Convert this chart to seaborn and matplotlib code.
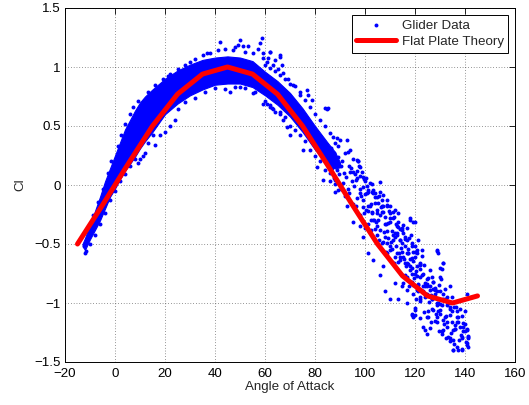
import matplotlib
matplotlib.use("Agg")
import matplotlib.pyplot as plt
import seaborn as sns
import pandas as pd

# Flat plate theory curve
theory_aoa = [-15, -5, 5, 15, 25, 35, 45, 55, 65, 75, 85, 95, 105, 115, 125, 135, 145]
theory_cl = [-0.50, -0.17, 0.17, 0.50, 0.77, 0.94, 1.00, 0.94, 0.77, 0.50, 0.17,
             -0.17, -0.50, -0.77, -0.94, -1.00, -0.94]

# Dense core of the glider data cloud (upper / lower envelope)
core_aoa = [-13, -12, -10, -8, -6, -4, -2, 0, 2, 4, 6, 8, 10, 12, 15, 20, 25, 30, 35,
            40, 45, 50, 55, 60, 65, 70, 75, 80, 85, 88, 90]
core_upper = [-0.50, -0.45, -0.34, -0.22, -0.10, 0.03, 0.14, 0.25, 0.36, 0.47, 0.55,
              0.63, 0.70, 0.75, 0.81, 0.90, 0.97, 1.02, 1.06, 1.08, 1.09, 1.08, 1.05,
              0.96, 0.88, 0.78, 0.65, 0.50, 0.36, 0.28, 0.19]
core_lower = [-0.52, -0.55, -0.46, -0.38, -0.30, -0.20, -0.10, -0.03, 0.05, 0.12, 0.18,
              0.24, 0.31, 0.37, 0.45, 0.60, 0.69, 0.76, 0.81, 0.85, 0.86, 0.86, 0.83,
              0.76, 0.68, 0.58, 0.45, 0.30, 0.18, 0.14, 0.15]

# Individual glider data points: edges and outliers of the dense cloud
edge_aoa = [
    42, 50, 58.7, 51, 53, 58, 62, 66, 36.7, 30, 21, 20.7, 6, 49, 60.7, 64, 61,
    25, 28, 32, 35, 38, 41, 44, 47, 48, 52, 55, 57, 59, 63, 65, 67, 69, 66, 66.7, 59.3, 62,
    -11.5, -9, -7, -5, -3, -1.5, 1, 2.5, 4, 6, 7, 9, 13, 16, 19, 22,
    -12, -11.5, -10, -8, -6, -4, -2, 0, 2, 4, 6, 8, 13, 15, 25, 28, 32, 36, 40, 44, 48, 52, 56,
    9.3, 10, 11, 12, 16, 18, 20, 22, 24, 46, 55.3, 50,
    60.7, 62.7, 63, 66, 59.3, 62, 67.3, 68.7, 70, 75.3, 80.7, 83.3, 88,
    71.3, 74, 76.7, 77.3, 78.7, 84.7, 85.3, 84, 90, 92.7, 94, 96.7, 89.3, 88.7, 87.3,
    60, 62, 64, 66, 68, 70, 72, 74, 76, 78, 80, 82, 84, 86, 88,
    60, 62, 64, 66, 68, 70, 72, 74, 76, 78, 80, 82, 84, 86, 88, 90,
    61, 67, 73, 79, 83, 71, 77, 81,
]
edge_cl = [
    1.21, 1.23, 1.25, 1.18, 1.18, 1.20, 1.13, 1.10, 1.12, 1.04, 0.92, 0.88, 0.51, 1.19, 1.045, 1.06, 1.08,
    0.98, 1.02, 1.07, 1.10, 1.12, 1.14, 1.15, 1.14, 1.17, 1.13, 1.12, 1.15, 1.08, 1.02, 0.98, 0.95, 0.90, 1.088, 1.017, 1.116, 1.13,
    -0.40, -0.25, -0.14, -0.03, 0.10, 0.20, 0.33, 0.42, 0.52, 0.60, 0.66, 0.71, 0.79, 0.85, 0.90, 0.94,
    -0.58, -0.56, -0.50, -0.42, -0.33, -0.24, -0.13, -0.05, 0.03, 0.09, 0.16, 0.22, 0.36, 0.42, 0.64, 0.70, 0.74, 0.79, 0.82, 0.81, 0.83, 0.82, 0.79,
    0.19, 0.22, 0.25, 0.27, 0.34, 0.42, 0.45, 0.50, 0.55, 0.79, 0.78, 0.83,
    0.69, 0.65, 0.64, 0.62, 0.69, 0.664, 0.55, 0.494, 0.424, 0.30, 0.155, 0.042, -0.057,
    0.85, 0.79, 0.805, 0.763, 0.72, 0.64, 0.65, 0.65, 0.38, 0.38, 0.30, 0.21, 0.24, 0.40, 0.41,
    1.02, 0.99, 0.97, 0.93, 0.90, 0.86, 0.84, 0.76, 0.72, 0.66, 0.60, 0.55, 0.50, 0.44, 0.36,
    0.71, 0.68, 0.62, 0.60, 0.58, 0.50, 0.47, 0.42, 0.37, 0.30, 0.25, 0.20, 0.13, 0.10, 0.04, 0.00,
    0.85, 0.75, 0.62, 0.45, 0.30, 0.70, 0.52, 0.40,
]

# Individual glider data points: sparser high angle-of-attack region
sparse_aoa = [
    86.2, 85.7, 86.6, 86.0,  87.4, 88.0, 87.6, 87.9,  89.2, 88.8, 89.5, 89.0,
    90.6, 90.3, 91.0, 90.5,  92.1, 91.7, 92.4, 92.0,  93.4, 93.8, 93.2, 93.6,
    95.0, 94.7, 95.4, 95.1,  96.6, 96.2, 96.9, 96.4,  98.1, 97.8, 98.4, 98.0,
    99.4, 99.8, 99.2, 99.6,  101.0, 100.6, 101.3, 101.1,  102.6, 102.2, 102.9, 102.4,
    104.1, 103.8, 104.4, 104.0,  105.4, 105.8, 105.2, 105.6,  107.0, 106.7, 107.4, 107.1,
    108.6, 108.2, 108.9, 108.4,  110.1, 109.8, 110.4, 110.0,  111.4, 111.8, 111.2, 111.6,
    113.0, 112.7, 113.4, 113.1,  114.6, 114.2, 114.9, 114.4,  116.1, 115.8, 116.4, 116.0,
    117.4, 117.8, 117.2, 117.6,  119.0, 118.7, 119.4, 119.1,  120.6, 120.2, 120.9, 120.4,
    122.1, 121.8, 122.4, 122.0,  123.4, 123.8, 123.2, 123.6,  125.0, 124.7, 125.4, 125.1,
    126.6, 126.2, 126.9, 126.4,  128.1, 127.8, 128.4, 128.0,  129.4, 129.8, 129.2, 129.6,
    131.0, 130.7, 131.4, 131.1,  132.6, 132.2, 132.9, 132.4,  134.1, 133.8, 134.4, 134.0,
    135.4, 135.8, 135.2, 135.6,  137.0, 136.7, 137.4,  138.6, 138.2, 138.9,
    140.1, 139.8, 140.4,
    97.3, 98, 98.7, 99.3, 95.3, 96.7, 100, 100.7, 102, 97,
    101.3, 103.3, 104.7, 106, 105.3, 106.7, 108.7, 110, 111.3, 112, 108, 107.3, 109.3, 113.3,
    118, 119.3, 114, 112.7, 115.3, 116.7, 114.7, 112, 118.7, 117.3, 120, 120.7, 122, 128.7,
    131.3, 130, 123.3, 124.7, 121.3, 119.3, 118.7, 122, 124.7, 126.7, 127.3, 125.3, 123.3,
    124.7, 128.7, 130, 131.3, 132.7, 130.7, 133.3, 135.3, 134.7, 136.7, 138, 139.3, 140.7,
    141.3, 140.7, 135.3, 138.7, 136.7, 136, 134, 132, 129.3, 128, 130, 126, 127.3, 123.3,
    120.7, 120, 118, 116.7, 114, 112.7, 110.7, 108.7, 108, 106, 104.7, 103.3, 102.7, 101.3,
    99.3, 98, 113.3, 110, 108, 119.3, 120,
    115.3, 117.3, 119.3, 118, 116.7, 115.3, 118.7, 122, 122, 129.3, 131.3, 130.7, 127.3, 124,
    126, 128.7, 131.3, 122, 116.7, 120, 118.7, 122, 124.7, 126.7, 128.7, 130, 132.7, 134.7,
    132, 128.7, 126, 124, 130.7, 134, 136, 137.3, 139.3, 140, 140.7, 138.7, 141.3, 140.7,
    135.3, 137.3, 138.7, 141.3, 140.7, 134, 136.7, 120,
    106, 104, 102.7, 107.3, 108.7, 106.7, 104.7, 110, 111.3, 113.3, 118, 120, 112.7, 114.7,
    116.7, 111.3, 114, 116, 118.7, 121.3, 117.3, 120, 122.7, 110, 112, 114, 116, 120.7,
    118.7, 122.7, 128.7, 130, 124.7, 121.3, 116.7, 114.7, 112, 106, 107.3, 103.3, 101.3,
    99.3, 95.3, 92.7, 98, 100, 104.7, 106.7, 108.7, 110.7,
    93, 94.5, 96, 97.5, 99, 100.5, 101.8, 103, 103.5, 104.8, 106.2, 107.8, 109, 109.5,
    110.8, 112.2, 112.5, 113.8, 115, 115.5, 116.8, 118.3, 118.8, 120, 121, 122.8, 124,
    125.8, 127, 128.6, 130.2, 131.8, 133, 134.8, 136.2, 137.8, 139, 141, 100.2, 102.2,
]
sparse_cl = [
    0.31, 0.19, 0.14, 0.03,  0.27, 0.21, 0.06, 0.01,  0.33, 0.13, 0.09, -0.04,
    0.20, 0.16, 0.02, -0.03,  0.27, 0.10, 0.07, -0.09,  0.16, 0.11, -0.03, -0.07,
    0.22, 0.03, -0.01, -0.16,  0.12, 0.04, -0.11, -0.18,  0.08, -0.03, -0.09, -0.25,
    0.05, -0.08, -0.19, -0.24,  -0.04, -0.07, -0.22, -0.33,  0.01, -0.16, -0.23, -0.38,
    -0.10, -0.15, -0.31, -0.37,  -0.09, -0.25, -0.30, -0.47,  -0.18, -0.23, -0.40, -0.48,
    -0.17, -0.33, -0.39, -0.57,  -0.28, -0.31, -0.48, -0.55,  -0.27, -0.41, -0.47, -0.66,
    -0.36, -0.42, -0.58, -0.65,  -0.38, -0.53, -0.57, -0.75,  -0.46, -0.52, -0.69, -0.76,
    -0.45, -0.63, -0.67, -0.86,  -0.57, -0.62, -0.79, -0.85,  -0.58, -0.73, -0.77, -0.97,
    -0.67, -0.71, -0.89, -0.98,  -0.68, -0.83, -0.90, -1.08,  -0.79, -0.84, -0.99, -1.07,
    -0.78, -0.93, -0.97, -1.16,  -0.87, -0.92, -1.09, -1.15,  -0.85, -1.01, -1.07, -1.24,
    -0.97, -1.02, -1.18, -1.23,  -0.95, -1.11, -1.16, -1.30,  -1.05, -1.10, -1.25, -1.32,
    -1.03, -1.19, -1.23, -1.35,  -1.12, -1.16, -1.31,  -1.11, -1.27, -1.30,
    -1.18, -1.24, -1.33,
    0.20, 0.155, 0.11, 0.07, 0.11, 0.056, 0.03, -0.01, 0.014, 0.20,
    -0.056, -0.04, -0.10, -0.056, -0.155, -0.127, -0.18, -0.24, -0.28, -0.21, -0.27, -0.226, -0.325, -0.31,
    -0.30, -0.31, -0.37, -0.41, -0.41, -0.466, -0.494, -0.44, -0.52, -0.58, -0.61, -0.55, -0.66, -0.556,
    -0.66, -0.777, -0.75, -0.80, -0.85, -0.92, -1.09, -0.97, -0.92, -0.97, -1.06, -1.12, -1.20,
    -1.26, -1.12, -1.09, -1.14, -1.20, -1.24, -1.285, -1.31, -1.16, -1.12, -1.20, -1.24, -1.23,
    -1.30, -1.36, -1.40, -1.40, -1.37, -1.22, -1.03, -0.97, -1.00, -0.89, -0.90, -0.86, -0.82, -0.86,
    -0.89, -0.75, -0.72, -0.66, -0.61, -0.58, -0.54, -0.49, -0.44, -0.38, -0.35, -0.30, -0.24, -0.18,
    -0.127, -0.07, -0.97, -0.97, -0.90, -1.12, -1.045,
    -0.61, -0.58, -0.64, -0.69, -0.78, -0.83, -0.82, -0.78, -0.68, -0.58, -0.66, -0.71, -0.82, -0.86,
    -0.89, -0.90, -0.92, -0.95, -1.00, -1.06, -1.10, -1.13, -1.12, -1.05, -1.02, -1.06, -1.02, -1.07,
    -1.12, -1.16, -1.21, -1.23, -1.26, -1.30, -1.22, -1.16, -1.17, -1.07, -1.22, -1.29, -1.29, -1.34,
    -1.40, -1.40, -1.39, -1.37, -0.92, -0.86, -1.07, -1.10,
    0.028, -0.07, -0.056, -0.085, -0.127, -0.18, -0.21, -0.18, -0.226, -0.24, -0.28, -0.31, -0.35, -0.367,
    -0.367, -0.42, -0.466, -0.44, -0.49, -0.466, -0.54, -0.565, -0.55, -0.52, -0.607, -0.635, -0.66, -0.69,
    -0.75, -0.76, -0.55, -0.706, -0.86, -0.90, -0.89, -0.86, -0.83, -0.76, -0.69, -0.635, -0.58,
    -0.44, -0.31, -0.18, -0.35, -0.367, -0.42, -0.49, -0.58, -0.65,
    0.28, 0.14, 0.09, 0.16, -0.02, 0.06, -0.18, -0.07, -0.30, -0.24, -0.19, -0.33, -0.45, -0.22,
    -0.39, -0.33, -0.52, -0.47, -0.34, -0.63, -0.58, -0.42, -0.70, -0.52, -0.84, -0.60, -0.95,
    -0.72, -0.88, -1.00, -0.80, -0.88, -1.00, -0.95, -1.03, -1.05, -1.20, -1.28, -0.21, -0.30,
]

x_ticks = [-20, 0, 20, 40, 60, 80, 100, 120, 140, 160]
y_ticks = [-1.5, -1, -0.5, 0, 0.5, 1, 1.5]
y_tick_labels = ["\u22121.5", "\u22121", "\u22120.5", "0", "0.5", "1", "1.5"]

sns.set_style("white")
plt.rcParams["font.family"] = ["Liberation Sans", "DejaVu Sans"]

W, H = 529, 405
FS = 9.6
fig = plt.figure(figsize=(W / 100, H / 100), dpi=100)
ax = fig.add_axes([65 / W, 43 / H, 450 / W, 354 / H])

blue = (0, 0, 1)
red = (1, 0, 0)

ax.fill_between(core_aoa, core_lower, core_upper, color=blue, lw=0.8, edgecolor=blue, zorder=2)

df_pts = pd.DataFrame({"aoa": edge_aoa + sparse_aoa, "cl": edge_cl + sparse_cl})
sns.scatterplot(data=df_pts, x="aoa", y="cl", ax=ax, color=blue, s=8, linewidth=0,
                marker="o", label="Glider Data", zorder=3)

df_th = pd.DataFrame({"aoa": theory_aoa, "cl": theory_cl})
sns.lineplot(data=df_th, x="aoa", y="cl", ax=ax, color=red, lw=3.6,
             label="Flat Plate Theory", zorder=4)

ax.set_xlim(-20, 160)
ax.set_ylim(-1.5, 1.5)
ax.set_xticks(x_ticks)
ax.set_xticklabels([str(t).replace("-", "\u2212") for t in x_ticks])
ax.set_yticks(y_ticks)
ax.set_yticklabels(y_tick_labels)
ax.tick_params(direction="in", length=4, width=0.6, labelsize=FS, top=True, right=True,
               colors="black")
ax.tick_params(axis="x", pad=4)
ax.tick_params(axis="y", pad=3)
ax.grid(True, color="black", linestyle=(0, (1, 3)), linewidth=0.5, alpha=0.8)
for sp in ax.spines.values():
    sp.set_color("black")
    sp.set_linewidth(0.7)

ax.set_xlabel("Angle of Attack", fontsize=FS, labelpad=1)
ax.set_ylabel("Cl", fontsize=FS, labelpad=6)

leg = ax.legend(loc="upper right", fontsize=FS, frameon=True, fancybox=False,
                edgecolor="black", framealpha=1, handlelength=3.0, handletextpad=0.4,
                borderpad=0.35, labelspacing=0.3, borderaxespad=0.5, markerscale=1.0)
leg.get_frame().set_linewidth(0.7)

fig.savefig("out.png", dpi=100)
